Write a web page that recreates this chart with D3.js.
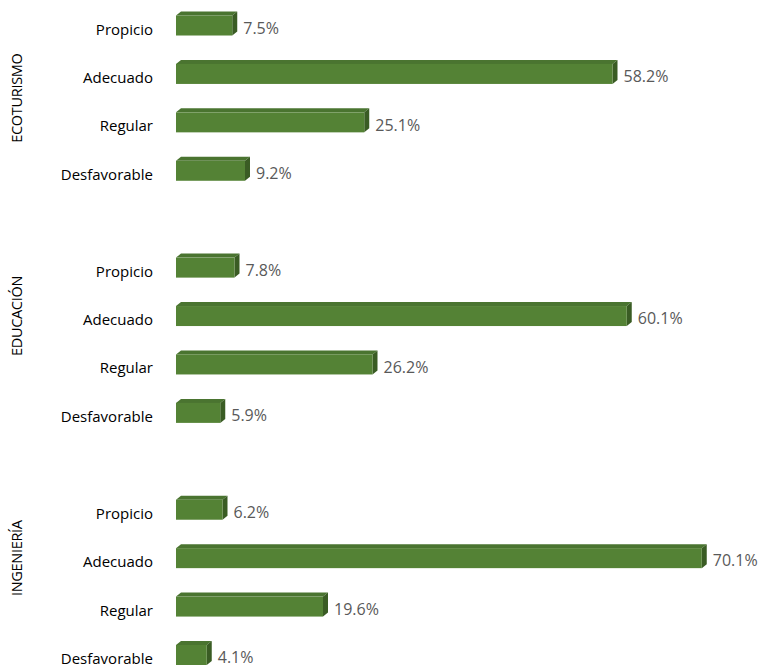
<!DOCTYPE html>
<html>
<head>
<meta charset="utf-8">
<script src="https://cdn.jsdelivr.net/npm/d3@7"></script>
<style>
  html, body { margin: 0; padding: 0; background: #fff; overflow: hidden; }
  svg { display: block; }
</style>
</head>
<body>
<svg id="chart" width="766" height="667"></svg>
<script>
// Survey results by programme (% of respondents per rating level)
const groups = ["ECOTURISMO", "EDUCACIÓN", "INGENIERÍA"];
const levels = ["Propicio", "Adecuado", "Regular", "Desfavorable"];
const ecoturismo = [7.5, 58.2, 25.1, 9.2];
const educacion = [7.8, 60.1, 26.2, 5.9];
const ingenieria = [6.2, 70.1, 19.6, 4.1];
const seriesByGroup = [ecoturismo, educacion, ingenieria];

// Flatten into rows, with one empty slot separating consecutive groups
const rows = [];
const slots = [];
groups.forEach((g, gi) => {
  if (gi > 0) slots.push("gap-" + gi);
  levels.forEach((lvl, li) => {
    const key = g + "|" + lvl;
    slots.push(key);
    rows.push({ key, group: g, gi, level: lvl, value: seriesByGroup[gi][li] });
  });
});

const svg = d3.select("#chart");
const font = "'Open Sans', 'Noto Sans', sans-serif";

const x = d3.scaleLinear().domain([0, 80]).range([176, 776]);
const y = d3.scaleBand().domain(slots).range([1.3, 679.2]).padding(0);

const barH = 20;   // front face height
const dx = 5;      // 3D depth offset (right)
const dy = 4;      // 3D depth offset (up)
const cFront = "#548235";
const cTop = "#4a7430";
const cSide = "#3a5c24";

const bars = svg.append("g").selectAll("g.bar").data(rows).join("g").attr("class", "bar");

bars.each(function(d) {
  const g = d3.select(this);
  const c = y(d.key) + y.bandwidth() / 2;
  const x0 = x(0), x1 = x(d.value);
  const yT = c - barH / 2, yB = c + barH / 2;
  // top face
  g.append("polygon")
    .attr("points", [[x0, yT], [x0 + dx, yT - dy], [x1 + dx, yT - dy], [x1, yT]].join(" "))
    .attr("fill", cTop);
  // side face
  g.append("polygon")
    .attr("points", [[x1, yT], [x1 + dx, yT - dy], [x1 + dx, yB - dy], [x1, yB]].join(" "))
    .attr("fill", cSide);
  // front face
  g.append("rect")
    .attr("x", x0).attr("y", yT)
    .attr("width", x1 - x0).attr("height", barH)
    .attr("fill", cFront);
  // value label
  g.append("text")
    .attr("x", x1 + dx + 6)
    .attr("y", c + 4)
    .attr("dominant-baseline", "middle")
    .attr("font-family", font)
    .attr("font-size", 16)
    .attr("fill", "#595959")
    .text(d3.format(".1f")(d.value) + "%");
});

// category labels
svg.append("g").selectAll("text").data(rows).join("text")
  .attr("x", 153)
  .attr("y", d => y(d.key) + y.bandwidth() / 2 + 5)
  .attr("text-anchor", "end")
  .attr("dominant-baseline", "middle")
  .attr("font-family", font)
  .attr("font-size", 15)
  .attr("fill", "#000")
  .text(d => d.level);

// group labels, centred over each group's rows plus the gap row before it
svg.append("g").selectAll("text").data(groups).join("text")
  .attr("transform", (g, gi) => {
    const first = gi > 0 ? "gap-" + gi : g + "|" + levels[0];
    const last = g + "|" + levels[levels.length - 1];
    const cy = (y(first) + y(last) + y.bandwidth()) / 2;
    return `translate(18,${cy}) rotate(-90)`;
  })
  .attr("text-anchor", "middle")
  .attr("dominant-baseline", "middle")
  .attr("font-family", font)
  .attr("font-size", 14.5)
  .attr("letter-spacing", -0.3)
  .attr("fill", "#000")
  .text(d => d);
</script>
</body>
</html>
